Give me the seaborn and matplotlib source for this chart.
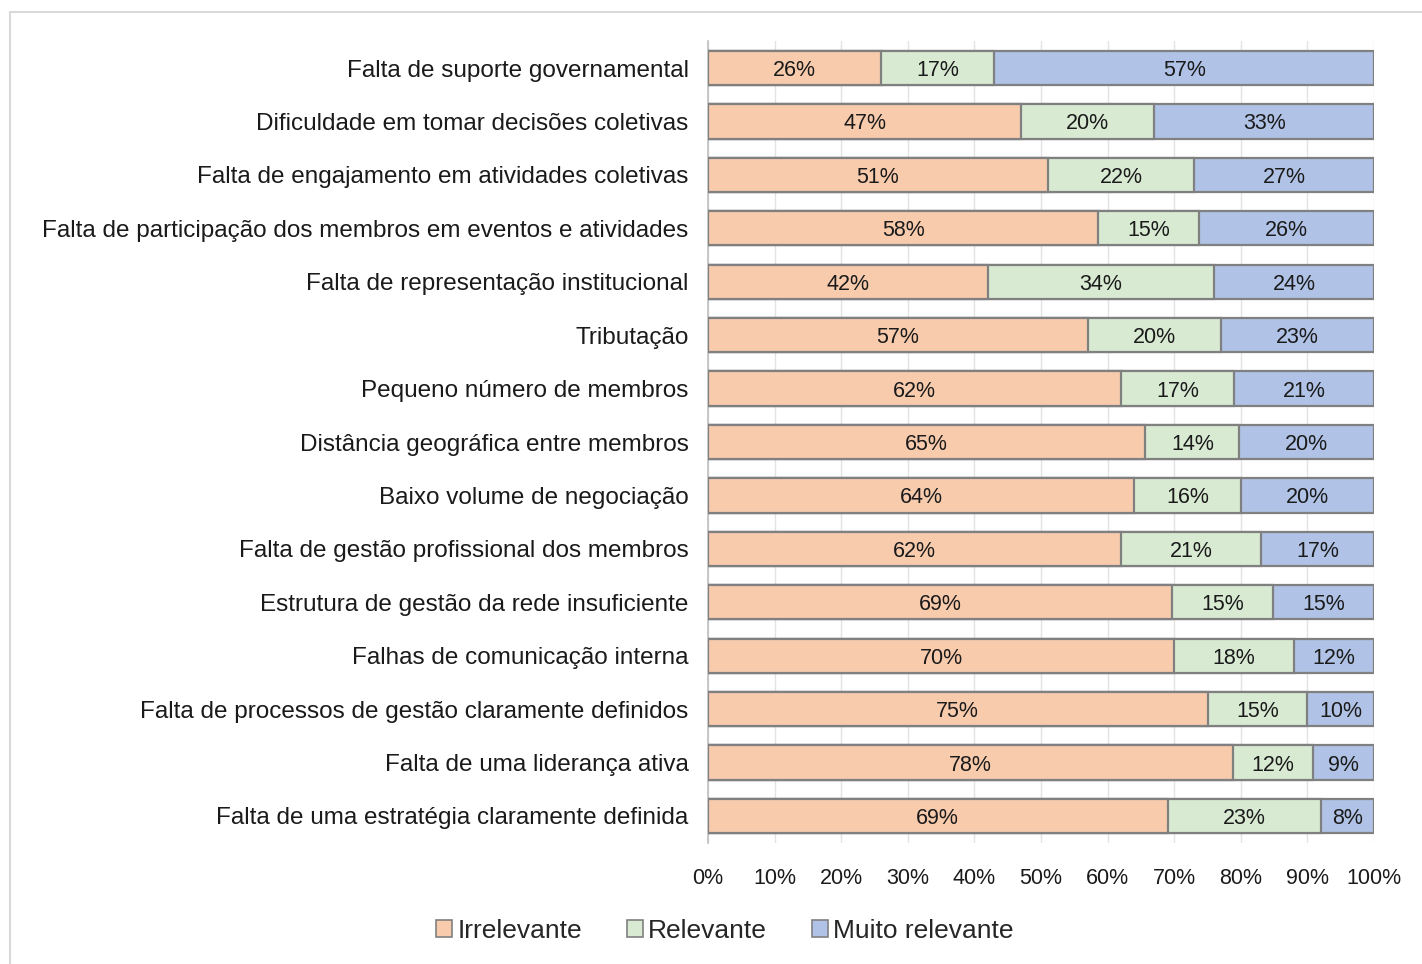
import numpy as np
import pandas as pd
import seaborn as sns
import matplotlib.pyplot as plt
from matplotlib.patches import Patch, Rectangle

# dados (percentuais por categoria)
categorias = [
    "Falta de suporte governamental",
    "Dificuldade em tomar decisões coletivas",
    "Falta de engajamento em atividades coletivas",
    "Falta de participação dos membros em eventos e atividades",
    "Falta de representação institucional",
    "Tributação",
    "Pequeno número de membros",
    "Distância geográfica entre membros",
    "Baixo volume de negociação",
    "Falta de gestão profissional dos membros",
    "Estrutura de gestão da rede insuficiente",
    "Falhas de comunicação interna",
    "Falta de processos de gestão claramente definidos",
    "Falta de uma liderança ativa",
    "Falta de uma estratégia claramente definida",
]
irrelevante = [26, 47, 51, 58, 42, 57, 62, 65, 64, 62, 69, 70, 75, 78, 69]
relevante = [17, 20, 22, 15, 34, 20, 17, 14, 16, 21, 15, 18, 15, 12, 23]
muito_relevante = [57, 33, 27, 26, 24, 23, 21, 20, 20, 17, 15, 12, 10, 9, 8]
series = ["Irrelevante", "Relevante", "Muito relevante"]
cores = ["#F8CBAD", "#D9EAD3", "#B0C3E6"]

df = pd.DataFrame({"cat": categorias, "Irrelevante": irrelevante,
                   "Relevante": relevante, "Muito relevante": muito_relevante})
tot = df[series].sum(axis=1)
# 100% empilhado, como no Excel
norm = df[series].div(tot, axis=0) * 100
cum = norm.cumsum(axis=1)

sns.set_theme(style="white")
plt.rcParams['font.family'] = ['Liberation Sans', 'DejaVu Sans']

fig = plt.figure(figsize=(14.22, 9.64), dpi=100)
ax = fig.add_axes([708 / 1422, 1 - 842.7 / 964, 666 / 1422, (842.7 - 41.3) / 964])

# desenha do maior acumulado para o menor, um por cima do outro
for s, c in zip(series[::-1], cores[::-1]):
    sns.barplot(x=cum[s], y=df["cat"], orient="h", color=c, saturation=1, width=0.64,
                edgecolor="#808080", linewidth=1.6, ax=ax, zorder=3)

for i in range(len(df)):
    left = 0
    for s in series:
        w = norm.loc[i, s]
        ax.text(left + w / 2, i, f"{df.loc[i, s]}%", ha="center", va="center_baseline",
                fontsize=15.5, color="#1a1a1a", zorder=5)
        left += w

ax.set_xlim(0, 100)
ax.set_ylim(14.5, -0.5)
ax.set_xticks(np.arange(0, 101, 10))
ax.set_xticklabels([f"{v}%" for v in range(0, 101, 10)])
ax.grid(axis="x", color="#e3e3e3", linewidth=1, zorder=0)
ax.set_xlabel("")
ax.set_ylabel("")
for sp in ["top", "right", "bottom"]:
    ax.spines[sp].set_visible(False)
ax.spines["left"].set_color("#bfbfbf")
ax.spines["left"].set_linewidth(1.2)
ax.tick_params(axis="y", length=0, pad=14, labelsize=17.5, labelcolor="#1a1a1a")
ax.tick_params(axis="x", length=0, pad=18, labelsize=15.5, labelcolor="#1a1a1a")

handles = [Patch(facecolor=c, edgecolor="#808080", linewidth=1.2, label=s)
           for s, c in zip(series, cores)]
fig.legend(handles=handles, loc="center", bbox_to_anchor=(725 / 1422, 1 - 931 / 964),
           ncol=3, frameon=False, fontsize=19, handlelength=0.6, handleheight=0.6,
           handletextpad=0.2, columnspacing=1.7)

# moldura cinza clara do grafico
fig.patches.append(Rectangle((10 / 1422, -0.05), 1.1, 1 - 12 / 964 + 0.05,
                             transform=fig.transFigure, fill=False,
                             edgecolor="#d9d9d9", linewidth=1.5))

fig.savefig("out.png", dpi=100)
